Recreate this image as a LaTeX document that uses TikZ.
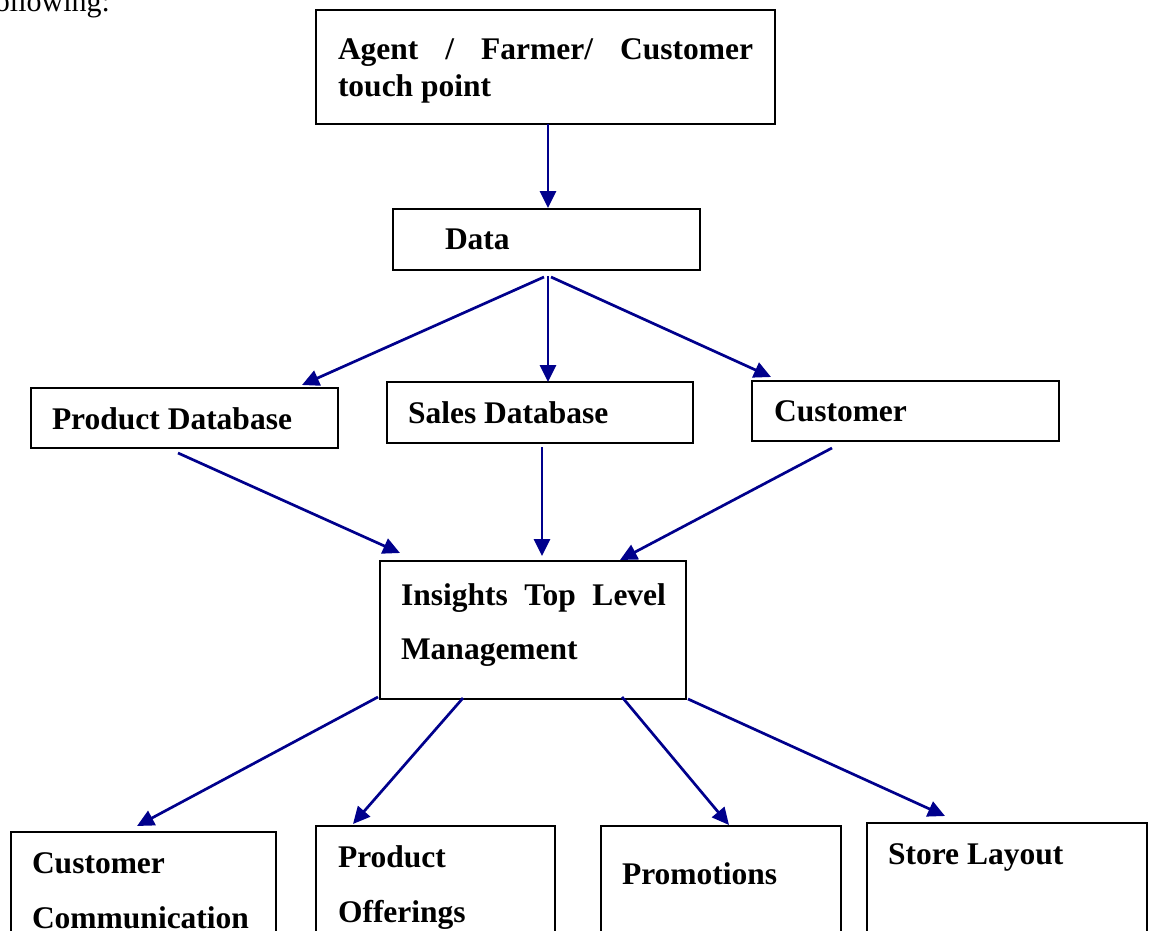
\documentclass[tikz,border=0pt]{standalone}
\usepackage{fontspec}
\setmainfont{Liberation Serif}
\usetikzlibrary{arrows.meta,calc}
\definecolor{arrowblue}{RGB}{0,0,140}
\begin{document}
\begin{tikzpicture}[x=1pt,y=-1pt,
  box/.style={draw=black,line width=1.8pt,inner sep=0pt,outer sep=0pt,anchor=north west},
  lbl/.style={anchor=base west,inner sep=0pt,outer sep=0pt,font=\fontsize{31.5}{37}\selectfont\bfseries},
  body/.style={anchor=base west,inner sep=0pt,outer sep=0pt,font=\fontsize{30}{36}\selectfont},
  arr/.style={draw=arrowblue,line width=2.7pt,-{Triangle[length=17pt,width=16pt]}}]
\useasboundingbox (0,0) rectangle (1149,931);
\clip (0,0) rectangle (1149,931);

% running text above the chart
\node[body] (lead) at (-15,12) {following:};

% boxes
\node[box,minimum width=459pt,minimum height=114pt] (top)   at (316,10)  {};
\node[box,minimum width=307pt,minimum height=61pt]  (data)  at (393,209) {};
\node[box,minimum width=307pt,minimum height=60pt]  (pdb)   at (31,388)  {};
\node[box,minimum width=306pt,minimum height=61pt]  (sdb)   at (387,382) {};
\node[box,minimum width=307pt,minimum height=60pt]  (cust)  at (752,381) {};
\node[box,minimum width=306pt,minimum height=138pt] (ins)   at (380,561) {};
\node[box,minimum width=265pt,minimum height=140pt] (cc)    at (11,832)  {};
\node[box,minimum width=239pt,minimum height=140pt] (po)    at (316,826) {};
\node[box,minimum width=240pt,minimum height=140pt] (promo) at (601,826) {};
\node[box,minimum width=280pt,minimum height=140pt] (store) at (867,823) {};

% labels
\node[lbl] (topA) at (338,60) {\hbox to 415pt{Agent\hfill/\hfill Farmer/\hfill Customer}};
\node[lbl] (topB) at (338,97) {touch point};
\node[lbl] (dataL) at (445,249) {Data};
\node[lbl] (pdbL) at (52,429) {Product Database};
\node[lbl] (sdbL) at (408,423) {Sales Database};
\node[lbl] (custL) at (774,421) {Customer};
\node[lbl] (insA) at (401,605) {\hbox to 265pt{Insights\hfill Top\hfill Level}};
\node[lbl] (insB) at (401,659) {Management};
\node[lbl] (ccA) at (32,873) {Customer};
\node[lbl] (ccB) at (32,928) {Communication};
\node[lbl] (poA) at (338,867) {Product};
\node[lbl] (poB) at (338,922) {Offerings};
\node[lbl] (promoL) at (622,884) {Promotions};
\node[lbl] (storeL) at (888,864) {Store Layout};

% connectors
\draw[arr] ($(top.south west)+(232,0)$) -- ($(data.north west)+(155,-1)$);
\draw[arr] ($(data.south west)+(151,7)$) -- ($(pdb.north west)+(271,-3)$);
\draw[arr] ($(data.south west)+(155,6)$) -- ($(sdb.north west)+(161,0)$);
\draw[arr] ($(data.south west)+(158,7)$) -- ($(cust.north west)+(19,-4)$);
\draw[arr] ($(pdb.south west)+(147,5)$) -- ($(ins.north west)+(20,-8)$);
\draw[arr] ($(sdb.south west)+(155,4)$) -- ($(ins.north west)+(162,-5)$);
\draw[arr] ($(cust.south west)+(80,7)$) -- ($(ins.north west)+(240,-1)$);
\draw[arr] ($(ins.south west)+(-2,-2)$) -- ($(cc.north west)+(126,-6)$);
\draw[arr] ($(ins.south west)+(83,-1)$) -- ($(po.north west)+(37,-2)$);
\draw[arr] ($(ins.south west)+(242,-2)$) -- ($(promo.north west)+(128,-1)$);
\draw[arr] ($(ins.south east)+(2,0)$) -- ($(store.north west)+(78,-7)$);
\end{tikzpicture}
\end{document}
